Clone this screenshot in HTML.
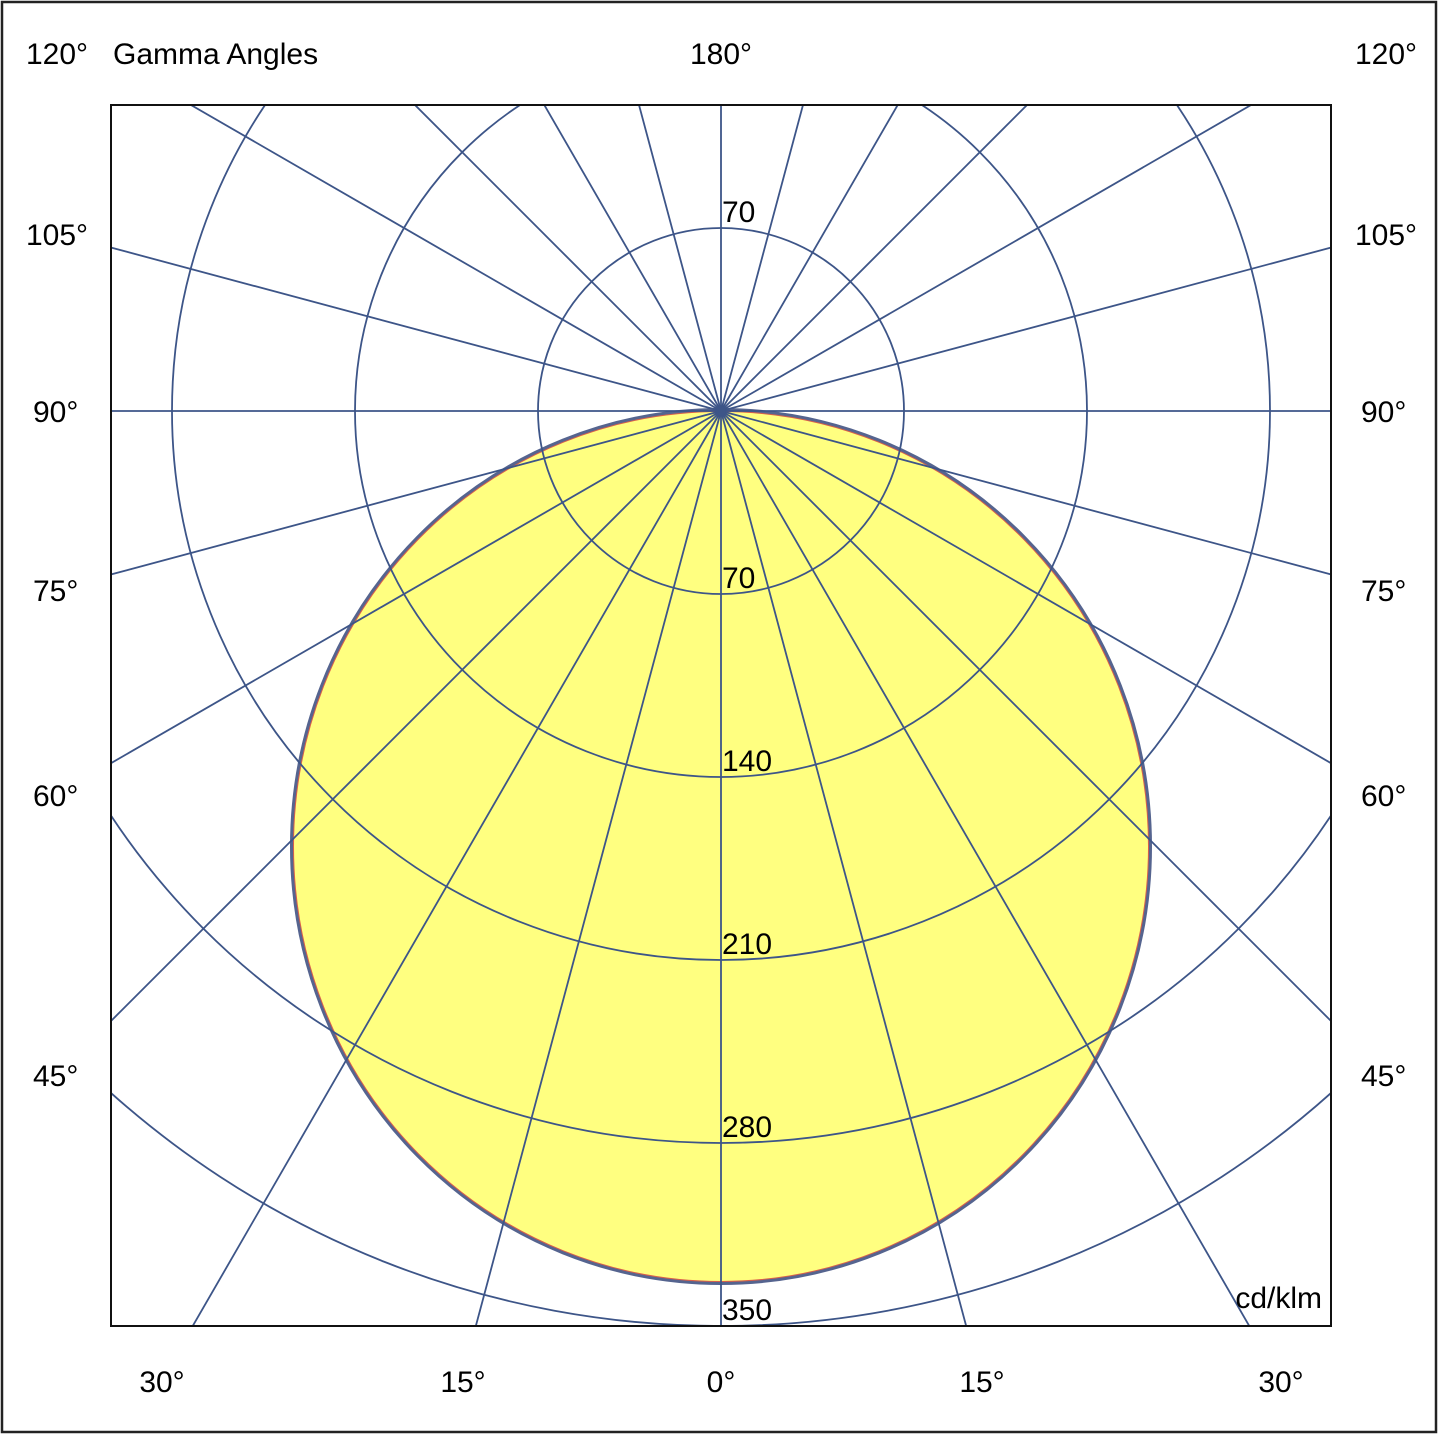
<!DOCTYPE html>
<html><head><meta charset="utf-8"><style>
html,body{margin:0;padding:0;background:#fff;overflow:hidden;width:1440px;height:1435px}
svg{display:block}
text{font-family:"Liberation Sans",Arial,sans-serif;fill:#000}
</style></head><body>
<svg width="1440" height="1435" viewBox="0 0 1440 1435" xmlns="http://www.w3.org/2000/svg">
<rect x="2" y="2" width="1434" height="1430" fill="#fff" stroke="#222" stroke-width="2.5"/>
<defs><clipPath id="c"><rect x="111" y="105" width="1220" height="1221"/></clipPath></defs>
<g clip-path="url(#c)">
<ellipse cx="721" cy="846.5" rx="428" ry="435.5" fill="#ffff80" stroke="#d9604a" stroke-width="2"/>
<ellipse cx="721" cy="846.5" rx="429.5" ry="437" fill="none" stroke="#55648f" stroke-width="3"/>
<g fill="none" stroke="#3d5588" stroke-width="1.8">
<circle cx="721" cy="411" r="183"/>
<circle cx="721" cy="411" r="366"/>
<circle cx="721" cy="411" r="549"/>
<circle cx="721" cy="411" r="732"/>
<circle cx="721" cy="411" r="915"/>
<g id="sp">
<line x1="721" y1="411" x2="721" y2="-1589"/>
<line x1="721" y1="411" x2="721" y2="2411"/>
</g>
<use href="#sp" transform="rotate(15 721 411)"/>
<use href="#sp" transform="rotate(30 721 411)"/>
<use href="#sp" transform="rotate(45 721 411)"/>
<use href="#sp" transform="rotate(60 721 411)"/>
<use href="#sp" transform="rotate(75 721 411)"/>
<use href="#sp" transform="rotate(90 721 411)"/>
<use href="#sp" transform="rotate(105 721 411)"/>
<use href="#sp" transform="rotate(120 721 411)"/>
<use href="#sp" transform="rotate(135 721 411)"/>
<use href="#sp" transform="rotate(150 721 411)"/>
<use href="#sp" transform="rotate(165 721 411)"/>
</g>
<circle cx="721" cy="411" r="5" fill="#3d5588"/>
</g>
<rect x="111" y="105" width="1220" height="1221" fill="none" stroke="#111" stroke-width="2"/>
<g font-size="30">
<text x="26" y="64">120°</text>
<text x="113" y="64">Gamma Angles</text>
<text x="721" y="64" text-anchor="middle">180°</text>
<text x="1355" y="64">120°</text>
<text x="26" y="245">105°</text>
<text x="1355" y="245">105°</text>
<text x="33" y="422">90°</text>
<text x="1361" y="422">90°</text>
<text x="33" y="601">75°</text>
<text x="1361" y="601">75°</text>
<text x="33" y="806">60°</text>
<text x="1361" y="806">60°</text>
<text x="33" y="1086">45°</text>
<text x="1361" y="1086">45°</text>
<text x="162" y="1392" text-anchor="middle">30°</text>
<text x="463" y="1392" text-anchor="middle">15°</text>
<text x="721" y="1392" text-anchor="middle">0°</text>
<text x="982" y="1392" text-anchor="middle">15°</text>
<text x="1281" y="1392" text-anchor="middle">30°</text>
<text x="722" y="222">70</text>
<text x="722" y="588">70</text>
<text x="722" y="771">140</text>
<text x="722" y="954">210</text>
<text x="722" y="1137">280</text>
<text x="722" y="1320">350</text>
<text x="1322" y="1308" text-anchor="end">cd/klm</text>
</g>
</svg>
</body></html>
